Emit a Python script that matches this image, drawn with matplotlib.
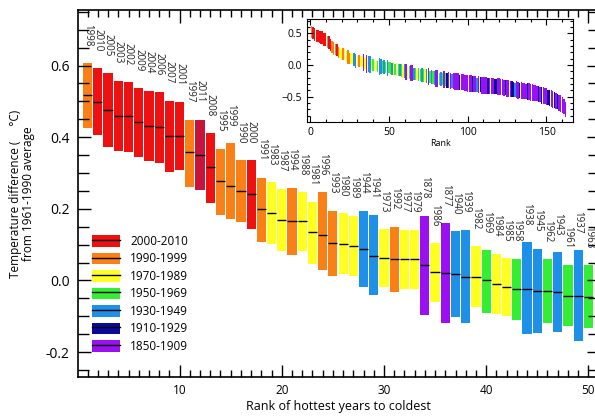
import matplotlib
matplotlib.use("Agg")
import matplotlib.pyplot as plt
from matplotlib.ticker import MultipleLocator
from matplotlib.patches import Patch
from matplotlib.lines import Line2D

plt.rcParams['font.family'] = ['Open Sans', 'DejaVu Sans']

# ---------------- data: top 50 ranks ----------------
years = [1998, 2010, 2005, 2003, 2002, 2009, 2004, 2006, 2007, 2001,
         1997, 2011, 2008, 1995, 1999, 1990, 2000, 1991, 1983, 1987,
         1994, 1988, 1981, 1996, 1993, 1980, 1989, 1944, 1941, 1973,
         1992, 1977, 1979, 1878, 1986, 1877, 1940, 1939, 1982, 1969,
         1984, 1985, 1958, 1938, 1945, 1962, 1943, 1961, 1937, 1963]
upper = [0.607, 0.592, 0.578, 0.558, 0.553, 0.536, 0.530, 0.527, 0.502, 0.498,
         0.449, 0.449, 0.412, 0.368, 0.384, 0.335, 0.335, 0.287, 0.274, 0.256,
         0.259, 0.246, 0.219, 0.246, 0.195, 0.187, 0.181, 0.195, 0.182, 0.144,
         0.150, 0.142, 0.142, 0.181, 0.105, 0.159, 0.138, 0.142, 0.096, 0.085,
         0.075, 0.063, 0.061, 0.107, 0.089, 0.059, 0.079, 0.042, 0.084, 0.042]
median = [0.519, 0.499, 0.476, 0.460, 0.458, 0.442, 0.431, 0.429, 0.404, 0.402,
          0.359, 0.351, 0.316, 0.278, 0.263, 0.251, 0.241, 0.200, 0.189, 0.170,
          0.167, 0.167, 0.134, 0.128, 0.105, 0.102, 0.096, 0.088, 0.068, 0.063,
          0.061, 0.061, 0.059, 0.042, 0.024, 0.020, 0.017, 0.010, 0.010, 0.000,
          -0.009, -0.018, -0.023, -0.023, -0.030, -0.030, -0.032, -0.044, -0.044, -0.045]
lower = [0.426, 0.405, 0.373, 0.362, 0.358, 0.344, 0.333, 0.327, 0.302, 0.308,
         0.261, 0.252, 0.215, 0.182, 0.172, 0.163, 0.143, 0.107, 0.102, 0.082,
         0.070, 0.082, 0.045, 0.029, 0.012, 0.019, 0.012, -0.018, -0.040, -0.018,
         -0.033, -0.025, -0.025, -0.097, -0.061, -0.120, -0.102, -0.120, -0.075, -0.090,
         -0.095, -0.100, -0.111, -0.149, -0.148, -0.118, -0.144, -0.128, -0.169, -0.132]

# ---------------- inset data: ranks 51-162 (estimated) ----------------
inset_median = [-0.05, -0.06, -0.06, -0.07, -0.07, -0.08, -0.08, -0.09, -0.10, -0.10,
                -0.11, -0.12, -0.12, -0.13, -0.13, -0.14, -0.14, -0.15, -0.15, -0.16,
                -0.16, -0.17, -0.17, -0.18, -0.18, -0.19, -0.19, -0.20, -0.20, -0.21,
                -0.21, -0.22, -0.22, -0.22, -0.23, -0.23, -0.24, -0.24, -0.25, -0.25,
                -0.25, -0.26, -0.26, -0.26, -0.27, -0.27, -0.27, -0.28, -0.28, -0.29,
                -0.29, -0.29, -0.30, -0.30, -0.30, -0.31, -0.31, -0.31, -0.32, -0.32,
                -0.32, -0.32, -0.33, -0.33, -0.33, -0.33, -0.34, -0.34, -0.34, -0.34,
                -0.35, -0.35, -0.36, -0.36, -0.37, -0.37, -0.38, -0.38, -0.39, -0.39,
                -0.39, -0.40, -0.40, -0.40, -0.41, -0.41, -0.42, -0.42, -0.42, -0.43,
                -0.43, -0.44, -0.44, -0.45, -0.46, -0.47, -0.48, -0.48, -0.49, -0.50,
                -0.51, -0.52, -0.53, -0.54, -0.55, -0.57, -0.58, -0.60, -0.61, -0.63,
                -0.65, -0.70]
inset_halfwidth = [0.09, 0.09, 0.10, 0.09, 0.10, 0.10, 0.09, 0.10, 0.10, 0.11,
                   0.12, 0.10, 0.10, 0.13, 0.13, 0.10, 0.10, 0.09, 0.10, 0.10,
                   0.11, 0.10, 0.10, 0.11, 0.13, 0.10, 0.11, 0.10, 0.11, 0.13,
                   0.13, 0.10, 0.11, 0.10, 0.13, 0.10, 0.12, 0.13, 0.13, 0.11,
                   0.13, 0.13, 0.13, 0.13, 0.12, 0.13, 0.13, 0.13, 0.13, 0.13,
                   0.13, 0.13, 0.12, 0.13, 0.13, 0.11, 0.13, 0.12, 0.13, 0.13,
                   0.13, 0.13, 0.12, 0.13, 0.13, 0.13, 0.12, 0.12, 0.13, 0.13,
                   0.13, 0.13, 0.13, 0.12, 0.13, 0.13, 0.13, 0.12, 0.12, 0.11,
                   0.13, 0.13, 0.12, 0.13, 0.13, 0.13, 0.12, 0.13, 0.13, 0.13,
                   0.13, 0.13, 0.13, 0.12, 0.13, 0.12, 0.13, 0.13, 0.13, 0.13,
                   0.12, 0.12, 0.13, 0.13, 0.12, 0.13, 0.12, 0.13, 0.13, 0.13,
                   0.12, 0.12]
inset_period = ("gbygygbgyb" "pygppbgygg" "bgybpgbgbp" "pgbgpgnppb"
                "ppppnppppp" "ppnppbpnpp" "ppnpppnnpp" "pppnpppnnb"
                "ppnppppnpp" "ppppnpnppp" "nnppnpnppp" "pp")

period_labels = ['2000-2010', '1990-1999', '1970-1989', '1950-1969',
                 '1930-1949', '1910-1929', '1850-1909']
period_colors = ['#ee1111', '#f98016', '#ffff22', '#33ee33',
                 '#1e90e8', '#0a0a9a', '#9b10f0']
code_colors = dict(zip('roygbnp', period_colors))
color_2011 = '#c8143c'


def year_color(y):
    if y >= 2011:
        return color_2011
    if y >= 2000:
        return period_colors[0]
    if y >= 1990:
        return period_colors[1]
    if y >= 1970:
        return period_colors[2]
    if y >= 1950:
        return period_colors[3]
    if y >= 1930:
        return period_colors[4]
    if y >= 1910:
        return period_colors[5]
    return period_colors[6]


ranks = list(range(1, len(years) + 1))
colors = [year_color(y) for y in years]

fig = plt.figure(figsize=(5.95, 4.19), dpi=100)
ax = fig.add_axes([0.131, 0.100, 0.875, 0.876])

heights = [u - l for u, l in zip(upper, lower)]
ax.bar(ranks, heights, bottom=lower, width=0.9, color=colors, linewidth=0)
ax.hlines(median, [r - 0.45 for r in ranks], [r + 0.45 for r in ranks],
          color='black', lw=1.0)
for r, y, u in zip(ranks, years, upper):
    ax.text(r, u + 0.047, str(y), rotation=270, ha='center', va='bottom',
            fontsize=7, color='#222222')

ax.set_xlim(0.05, 51.0)
ax.set_ylim(-0.27, 0.755)
ax.xaxis.set_major_locator(MultipleLocator(10))
ax.xaxis.set_minor_locator(MultipleLocator(1))
ax.yaxis.set_major_locator(MultipleLocator(0.2))
ax.yaxis.set_minor_locator(MultipleLocator(0.05))
ax.yaxis.set_major_formatter(matplotlib.ticker.FormatStrFormatter('%.1f'))
ax.tick_params(which='both', direction='in', top=True, right=True, width=1.0)
ax.tick_params(axis='x', which='major', length=9, labelsize=8.5, pad=5)
ax.tick_params(axis='x', which='minor', length=5)
ax.tick_params(axis='y', which='major', length=9, labelsize=10, pad=6)
ax.tick_params(axis='y', which='minor', length=8)
for s in ax.spines.values():
    s.set_linewidth(1.2)
ax.set_xlabel('Rank of hottest years to coldest', fontsize=9, labelpad=2)
ax.set_ylabel('Temperature difference (     \u00b0C)\nfrom 1961-1990 average',
              fontsize=8.5, labelpad=8, linespacing=1.0)

handles = [(Patch(facecolor=c, edgecolor='none'), Line2D([], [], color='black', lw=1))
           for c in period_colors]
ax.legend(handles, period_labels, loc='lower left', bbox_to_anchor=(0.027, 0.066),
          frameon=False, fontsize=8.5, handlelength=2.4, handleheight=1.15,
          labelspacing=0.38, handletextpad=0.85, borderpad=0, borderaxespad=0)

# ---------------- inset ----------------
ins = fig.add_axes([0.5165, 0.7095, 0.447, 0.2444])
all_median = median + inset_median
all_half = [(u - l) / 2 for u, l in zip(upper, lower)] + inset_halfwidth
all_colors = colors + [code_colors[c] for c in inset_period]
all_ranks = list(range(1, len(all_median) + 1))
ins.bar(all_ranks, [2 * h for h in all_half],
        bottom=[m - h for m, h in zip(all_median, all_half)],
        width=0.9, color=all_colors, linewidth=0)
ins.set_xlim(-1.7, 167)
ins.set_ylim(-0.894, 0.72)
ins.xaxis.set_major_locator(MultipleLocator(50))
ins.xaxis.set_minor_locator(MultipleLocator(10))
ins.yaxis.set_major_locator(MultipleLocator(0.5))
ins.yaxis.set_minor_locator(MultipleLocator(0.1))
ins.tick_params(which='both', direction='in', top=True, right=True, labelsize=7.5, width=0.8)
ins.tick_params(which='major', length=4)
ins.tick_params(which='minor', length=2.5)
ins.set_xlabel('Rank', fontsize=6.5, labelpad=1)

fig.savefig('out.png', dpi=100)
